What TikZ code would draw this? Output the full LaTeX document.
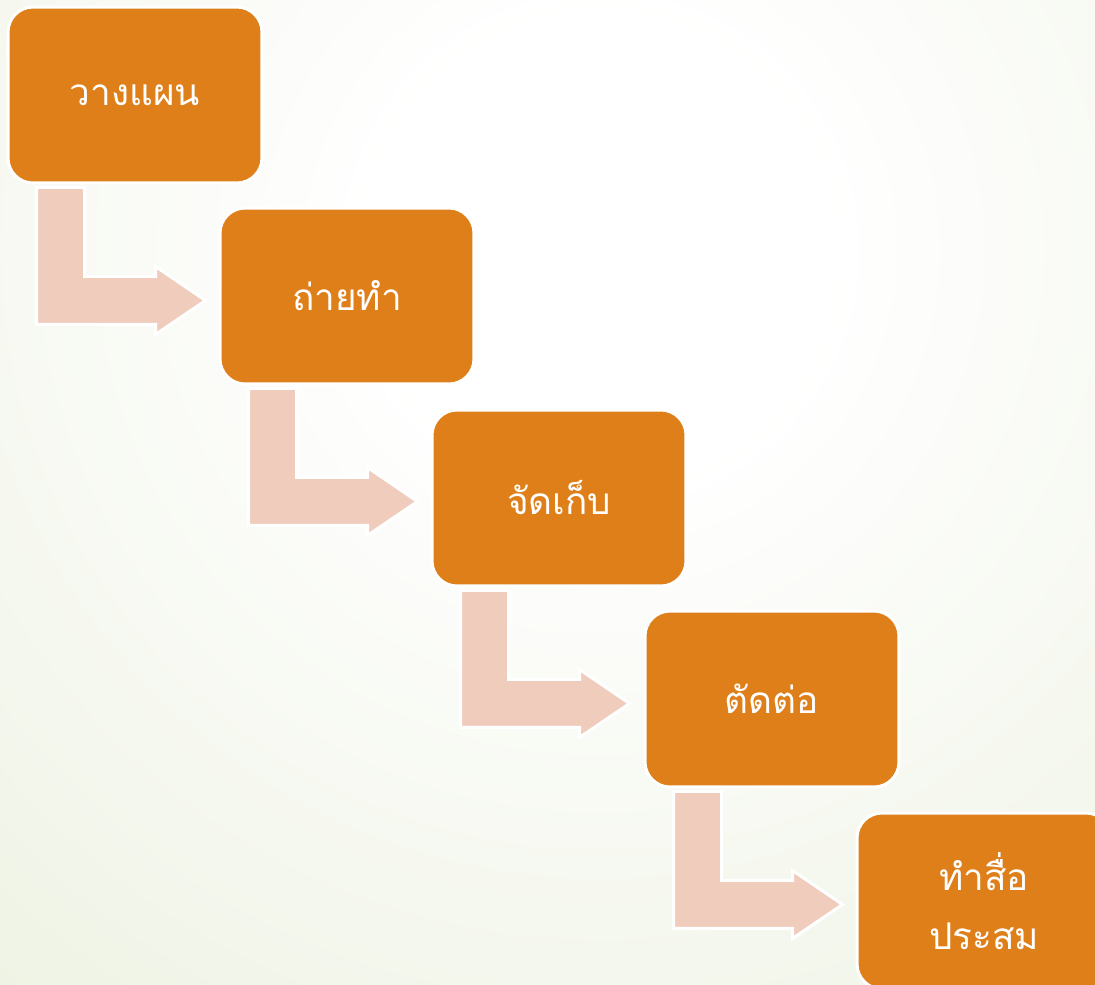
\documentclass[tikz,border=0pt]{standalone}
\usepackage{fontspec}
\newfontfamily\thaifont[Script=Thai]{Loma}
\definecolor{stageorange}{RGB}{223,127,26}
\definecolor{arrowpink}{RGB}{240,204,188}
\definecolor{bgouter}{RGB}{226,234,208}
\pgfdeclareradialshading{bgglow}{\pgfpoint{0bp}{0bp}}{color(0bp)=(white); color(6bp)=(white); color(40bp)=(bgouter); color(50bp)=(bgouter)}
\begin{document}
\begin{tikzpicture}[x=0.02cm,y=-0.02cm,
    stage/.style={draw=white,line width=0.06cm,fill=stageorange,rounded corners=0.5cm,
      minimum width=5.08cm,minimum height=3.52cm,inner sep=0pt,align=center,
      text=white,font=\thaifont\fontsize{21}{34}\selectfont},
    bendarrow/.style={draw=white,line width=0.06cm,fill=arrowpink,line join=miter}]
  \useasboundingbox (0,0) rectangle (1095,984);
  \clip (0,0) rectangle (1095,984);
  \shade[shading=bgglow] (600,250) circle (950);
  \draw
    (135,95) node[stage] (1) {วางแผน}
    (347,296) node[stage] (2) {ถ่ายทำ}
    (559,498) node[stage] (3) {จัดเก็บ}
    (772,699) node[stage] (4) {ตัดต่อ}
    (984,901) node[stage] (5) {ทำสื่อ\\ประสม};
  \draw[bendarrow] ([shift={(30,3)}]1.south west) -- ++(48,0) -- ++(0,89) -- ++(71,0) -- ++(0,-10)
    -- ++(50,34) -- ++(-50,34) -- ++(0,-10) -- ++(-119,0) -- cycle;
  \draw[bendarrow] ([shift={(30,3)}]2.south west) -- ++(48,0) -- ++(0,89) -- ++(71,0) -- ++(0,-10)
    -- ++(50,34) -- ++(-50,34) -- ++(0,-10) -- ++(-119,0) -- cycle;
  \draw[bendarrow] ([shift={(30,3)}]3.south west) -- ++(48,0) -- ++(0,89) -- ++(71,0) -- ++(0,-10)
    -- ++(50,34) -- ++(-50,34) -- ++(0,-10) -- ++(-119,0) -- cycle;
  \draw[bendarrow] ([shift={(30,3)}]4.south west) -- ++(48,0) -- ++(0,89) -- ++(71,0) -- ++(0,-10)
    -- ++(50,34) -- ++(-50,34) -- ++(0,-10) -- ++(-119,0) -- cycle;
\end{tikzpicture}
\end{document}
